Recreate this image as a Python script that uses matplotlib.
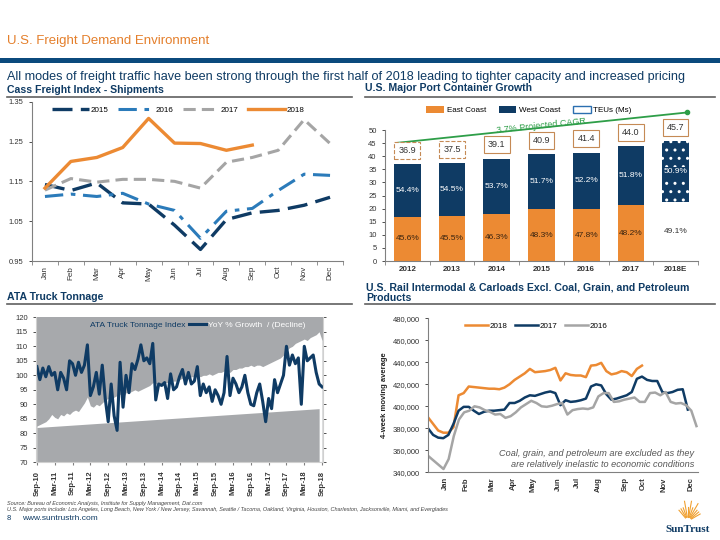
import math
import matplotlib
matplotlib.use('Agg')
import matplotlib.pyplot as plt
from matplotlib.patches import Patch, Rectangle
from matplotlib.lines import Line2D
from matplotlib.ticker import FuncFormatter

plt.rcParams['font.family'] = ['Liberation Sans', 'DejaVu Sans']

NAVY = '#0f3b64'
BLUE = '#2b7bba'
GRAY = '#a5a5a5'
ORANGE = '#ec8a33'
TITLE_OR = '#e47f2b'
BAND = '#0b4a7d'
ATA_BG = '#a7a9ac'
AXC = '#808080'

# ---------------- data ----------------
months = ['Jan', 'Feb', 'Mar', 'Apr', 'May', 'Jun', 'Jul', 'Aug', 'Sep', 'Oct', 'Nov', 'Dec']
cass_2015 = [1.142, 1.127, 1.146, 1.096, 1.093, 1.040, 0.979, 1.054, 1.071, 1.077, 1.090, 1.110]
cass_2016 = [1.112, 1.118, 1.112, 1.120, 1.093, 1.077, 1.007, 1.075, 1.082, 1.127, 1.168, 1.165]
cass_2017 = [1.128, 1.157, 1.148, 1.155, 1.155, 1.150, 1.133, 1.198, 1.210, 1.228, 1.305, 1.245]
cass_2018 = [1.133, 1.200, 1.210, 1.235, 1.308, 1.246, 1.245, 1.228, 1.241]

port_years = ['2012', '2013', '2014', '2015', '2016', '2017', '2018E']
port_total = [36.9, 37.5, 39.1, 40.9, 41.4, 44.0, 45.7]
east_share = [45.6, 45.5, 46.3, 48.3, 47.8, 48.2, 49.1]
west_share = [54.4, 54.5, 53.7, 51.7, 52.2, 51.8, 50.9]
cagr_start, cagr_end = 45.1, 56.7

ata_ticks = ['Sep-10', 'Mar-11', 'Sep-11', 'Mar-12', 'Sep-12', 'Mar-13', 'Sep-13', 'Mar-14',
             'Sep-14', 'Mar-15', 'Sep-15', 'Mar-16', 'Sep-16', 'Mar-17', 'Sep-17', 'Mar-18', 'Sep-18']
ata_index = [82.5, 83, 83.5, 84, 85, 86.5, 85.5, 85, 86.5, 86, 87, 86.5, 87.5, 88, 87.5, 89, 90.5,
             92.5, 89.5, 89, 90, 89.5, 90.5, 91.5, 92, 91.5, 92.5, 93, 93.5, 92.5, 94, 94, 94.5,
             95, 94.5, 95, 95.5, 96, 96.5, 97.5, 97, 97.5, 97, 97.5, 97.5, 98, 98, 98, 98.5, 99,
             98.5, 99, 99.5, 99.5, 100, 99.5, 100, 100, 100.5, 100, 100.5, 101, 101, 101.5, 101.5,
             101, 102, 102, 102.5, 102.5, 103, 103, 103.5, 103, 103.5, 103.5, 103, 103.5, 104,
             104.5, 105, 105.5, 106, 107, 108.5, 109.5, 110, 111, 111.5, 112, 112.5, 112, 113,
             113.5, 114, 115, 112]
ata_yoy = [103, 98.5, 102.5, 99.5, 103, 100, 101, 95, 101, 99, 95, 105, 104, 100, 104.5, 101,
           103.5, 110.5, 93, 96, 101, 93.5, 103.5, 92, 84, 97, 86, 81, 104.5, 89, 100, 94, 104,
           102, 105.5, 110.5, 105, 106, 104, 111, 91.5, 97, 96.5, 97.5, 92, 100.5, 95, 96, 99.5,
           102, 97, 101, 97, 98, 103, 93, 97, 94, 96, 91, 95, 93, 90, 94, 106.5, 93, 99, 97, 94,
           96, 100, 94, 90, 89.5, 94, 97, 91, 84, 92, 88.5, 98.5, 94, 97, 100, 110, 103.5, 107,
           104, 106, 90, 110, 105, 106, 107, 101, 97, 96]
ata_trend = [82.0, 88.5]

rail_ticks = ['Jan', 'Feb', 'Mar', 'Apr', 'May', 'Jun', 'Jul', 'Aug', 'Sep', 'Oct', 'Nov', 'Dec']
rail_tick_weeks = [3.5, 7.5, 12.5, 16.7, 20.6, 25.5, 29.3, 33.4, 38.7, 42.2, 46.3, 51.6]
rail_2018 = [390, 384, 378, 376, 376, 381, 410, 412, 418, 417.5, 417, 416.5, 416, 416, 415.5,
             417, 420, 424, 427, 430, 434, 431, 431.5, 432, 433, 435, 423.5, 430, 428.5, 428,
             428, 426.5, 437, 437.5, 439.5, 432, 429, 430, 432, 431, 427.5, 434, 437]
rail_2017 = [380, 374, 371.5, 371, 374, 384, 396, 399.5, 399.5, 396, 393, 395, 396, 396, 396.5,
             397, 403, 403, 405, 408, 410, 409.5, 411, 412.5, 413.5, 412, 401, 405.5, 404, 404.5,
             405.5, 407, 418, 420, 419, 411, 406, 407, 408.5, 410, 413, 425, 427, 424, 423, 423,
             413, 412, 413, 415, 415.5, 397]
rail_2016 = [355, 351, 347, 343, 352, 373, 388, 394.5, 396, 400, 399, 396.5, 395, 392.5, 393,
             389.5, 391, 394.5, 399, 402, 405, 403, 400, 399.5, 400.5, 402, 403, 392.5, 396.5,
             397.5, 398, 397.5, 399, 409, 412, 412, 404, 404.5, 406, 407, 408, 404, 404, 412,
             412.5, 410, 413, 404, 402.5, 403, 401, 396, 382]

# ---------------- figure ----------------
fig = plt.figure(figsize=(7.2, 5.4), dpi=100)
W, H = 720.0, 540.0


def fx(px):
    return px / W


def fy(py):
    return 1 - py / H


fig.text(fx(7), fy(41), 'U.S. Freight Demand Environment', color=TITLE_OR, fontsize=9.5,
         va='center', ha='left')
fig.add_artist(Rectangle((0, fy(63)), 1, 5 / H, transform=fig.transFigure, color=BAND, lw=0))
fig.text(fx(7), fy(77), 'All modes of freight traffic have been strong through the first half of 2018 '
         'leading to tighter capacity and increased pricing', color=NAVY, fontsize=9.1,
         va='center', ha='left')

titles = [(7, 90, 'Cass Freight Index - Shipments'), (365, 88, 'U.S. Major Port Container Growth'),
          (7, 297, 'ATA Truck Tonnage'),
          (366, 287, 'U.S. Rail Intermodal & Carloads Excl. Coal, Grain, and Petroleum'),
          (366, 298, 'Products')]
for x, y, t in titles:
    fig.text(fx(x), fy(y), t, color=NAVY, fontsize=7.6, fontweight='bold', va='center', ha='left')
for x0, x1, y in [(7, 352, 96.5), (365, 715, 96.5), (7, 352, 304), (365, 715, 304)]:
    fig.add_artist(Line2D([fx(x0), fx(x1)], [fy(y), fy(y)], transform=fig.transFigure,
                          color='#606060', lw=1.2))

tick_kw = dict(labelsize=5.5, colors='#333333', length=2.5, width=0.6)

# ---------------- Cass ----------------
ax1 = fig.add_axes([fx(32), fy(261), (343 - 32) / W, (261 - 101.7) / H])
xs = list(range(12))
ax1.plot(xs, cass_2015, color=NAVY, lw=2.4, dashes=(6, 2.5), label='2015')
ax1.plot(xs, cass_2016, color=BLUE, lw=2.2, dashes=(6, 2.5, 1.5, 2.5), label='2016')
ax1.plot(xs, cass_2017, color=GRAY, lw=2.2, dashes=(4, 2), label='2017')
ax1.plot(xs[:len(cass_2018)], cass_2018, color=ORANGE, lw=2.4, label='2018')
ax1.set_xlim(-0.5, 11.5)
ax1.set_ylim(0.95, 1.35)
ax1.set_yticks([0.95, 1.05, 1.15, 1.25, 1.35])
ax1.yaxis.set_major_formatter(FuncFormatter(lambda v, p: f'{v:.2f}'))
ax1.set_xticks(xs)
ax1.set_xticklabels(months, rotation=90)
ax1.set_xticks([i + 0.5 for i in range(-1, 12)], minor=True)
ax1.tick_params(axis='x', which='major', length=0, labelsize=5.8, colors='#333333')
ax1.tick_params(axis='x', which='minor', length=3, color=AXC)
ax1.tick_params(axis='y', **tick_kw)
for s in ['top', 'right']:
    ax1.spines[s].set_visible(False)
for s in ['left', 'bottom']:
    ax1.spines[s].set_color(AXC)
ax1.legend(loc='center', bbox_to_anchor=(0.47, 0.948), ncol=4, frameon=False, fontsize=5.8,
           handlelength=4.5, columnspacing=1.2, handletextpad=0.2)

# ---------------- Port ----------------
ax2 = fig.add_axes([fx(385), fy(261), (698 - 385) / W, (261 - 130) / H])
xp = list(range(len(port_years)))
east = [t * s / 100 for t, s in zip(port_total, east_share)]
west = [t * s / 100 for t, s in zip(port_total, west_share)]
east_cols = [ORANGE] * 6 + ['white']
ax2.bar(xp, east, width=0.6, color=east_cols, lw=0)
ax2.bar(xp[:6], west[:6], bottom=east[:6], width=0.6, color=NAVY, lw=0)
ax2.bar(xp[6:], west[6:], bottom=east[6:], width=0.6, color=NAVY, edgecolor='white', lw=0,
        hatch='..')
for i in xp:
    ec = '#3a2410' if i < 6 else '#333333'
    ax2.text(i, east[i] / 2, f'{east_share[i]:.1f}%', ha='center', va='center', fontsize=6,
             color=ec)
    bb = None if i < 6 else dict(boxstyle='square,pad=0.2', fc=NAVY, ec='none')
    ax2.text(i, east[i] + west[i] / 2, f'{west_share[i]:.1f}%', ha='center', va='center',
             fontsize=6, color='white', bbox=bb)
    ls = '--' if i < 2 else '-'
    ax2.text(i, port_total[i] + 5.2, f'{port_total[i]:.1f}', ha='center', va='center',
             fontsize=6.5, color='#333333', clip_on=False,
             bbox=dict(boxstyle='square,pad=0.45', fc='white', ec='#c58a55', lw=0.8, ls=ls))
ax2.plot([-0.23, 6.26], [cagr_start, cagr_end], color='#2e9e48', lw=1.3, clip_on=False)
ax2.plot([6.26], [cagr_end], 'o', color='#2e9e48', ms=3, clip_on=False)
ax2.text(3.0, 51.6, '3.7% Projected CAGR', color='#2e9e48', fontsize=6.5, rotation=6,
         ha='center', va='center', clip_on=False)
ax2.set_xlim(-0.5, 6.5)
ax2.set_ylim(0, 50)
ax2.set_yticks(range(0, 51, 5))
ax2.set_xticks(xp)
ax2.set_xticklabels(port_years, fontweight='bold')
ax2.set_xticks([i + 0.5 for i in range(-1, 7)], minor=True)
ax2.tick_params(axis='x', which='major', length=0, labelsize=5.8, colors='#333333')
ax2.tick_params(axis='x', which='minor', length=3, color=AXC)
ax2.tick_params(axis='y', **tick_kw)
for s in ['top', 'right']:
    ax2.spines[s].set_visible(False)
for s in ['left', 'bottom']:
    ax2.spines[s].set_color(AXC)
handles = [Patch(fc=ORANGE, ec='none'), Patch(fc=NAVY, ec='none'),
           Patch(fc='white', ec='#2b6fb0', lw=1.0)]
ax2.legend(handles, ['East Coast', 'West Coast', 'TEUs (Ms)'], loc='center',
           bbox_to_anchor=(0.46, 1.155), ncol=3, frameon=False, fontsize=5.8, handlelength=2.2,
           handleheight=1.0, columnspacing=1.6, handletextpad=0.3)

# ---------------- ATA ----------------
ax3 = fig.add_axes([fx(36), fy(462.3), (323 - 36) / W, (462.3 - 317.3) / H])
ax3.set_facecolor(ATA_BG)
xm = list(range(len(ata_index)))
ax3.fill_between(xm, 70, ata_index, color='white', lw=0)
ax3.fill_between([0, 95], [70, 70], ata_trend, color=ATA_BG, lw=0)
ax3.plot(xm, ata_yoy, color=NAVY, lw=2.2)
ax3.set_xlim(-0.3, 96.3)
ax3.set_ylim(70, 120)
ax3.set_yticks(range(70, 121, 5))
ax3.set_xticks(range(0, 97, 6))
ax3.set_xticklabels(ata_ticks, rotation=90, fontweight='bold')
ax3.tick_params(axis='x', labelsize=5.5, colors='#333333', length=2.5, color=AXC)
ax3.tick_params(axis='y', which='both', right=True, **tick_kw)
ax3.spines['top'].set_visible(False)
for s in ['left', 'bottom', 'right']:
    ax3.spines[s].set_color('#d0d0d0')
leg3 = ax3.legend([Patch(fc='none', ec='none'), Line2D([], [], color=NAVY, lw=2.2)],
                  ['ATA Truck Tonnage Index', 'YoY % Growth  / (Decline)'], loc='center',
                  bbox_to_anchor=(0.53, 0.945), ncol=2, frameon=False, fontsize=6,
                  handlelength=2.0, handletextpad=0.2, columnspacing=0.5)
leg3.get_texts()[0].set_color(NAVY)
leg3.get_texts()[1].set_color('white')

# ---------------- Rail ----------------
ax4 = fig.add_axes([fx(428), fy(472.3), (698 - 428) / W, (472.3 - 318.3) / H])
ax4.plot(range(len(rail_2018)), [v * 1000 for v in rail_2018], color=ORANGE, lw=1.8, label='2018')
ax4.plot(range(len(rail_2017)), [v * 1000 for v in rail_2017], color=NAVY, lw=1.8, label='2017')
ax4.plot([w + 0.7 * (w / 52) for w in range(len(rail_2016))], [v * 1000 for v in rail_2016],
         color=GRAY, lw=1.8, label='2016')
ax4.set_xlim(0, 53)
ax4.set_ylim(340000, 480000)
ax4.set_yticks(range(340000, 480001, 20000))
ax4.yaxis.set_major_formatter(FuncFormatter(lambda v, p: f'{v:,.0f}'))
ax4.set_xticks(rail_tick_weeks)
ax4.set_xticklabels(rail_ticks, rotation=90, fontweight='bold')
ax4.tick_params(axis='x', labelsize=5.5, colors='#333333', length=0)
ax4.tick_params(axis='y', **tick_kw)
ax4.set_ylabel('4-week moving average', fontsize=5.5, fontweight='bold', color='#222222',
               labelpad=3)
for s in ['top', 'right']:
    ax4.spines[s].set_visible(False)
for s in ['left', 'bottom']:
    ax4.spines[s].set_color(AXC)
ax4.legend(loc='center', bbox_to_anchor=(0.40, 0.952), ncol=3, frameon=False, fontsize=5.8,
           handlelength=2.8, handletextpad=0.2, columnspacing=1.0)
ax4.text(0.985, 0.085, 'Coal, grain, and petroleum are excluded as they\n'
         'are relatively inelastic to economic conditions', transform=ax4.transAxes,
         ha='right', va='center', fontsize=6.6, style='italic', color='#555555', linespacing=1.3)

# ---------------- footer ----------------
fig.text(fx(7), fy(503), 'Source: Bureau of Economic Analysis, Institute for Supply Management, Dat.com',
         fontsize=4, style='italic', color='#444444', va='center')
fig.text(fx(7), fy(510), 'U.S. Major ports include: Los Angeles, Long Beach, New York / New Jersey, '
         'Savannah, Seattle / Tacoma, Oakland, Virginia, Houston, Charleston, Jacksonville, Miami, '
         'and Everglades', fontsize=4, style='italic', color='#444444', va='center')
fig.text(fx(7), fy(519), '8', fontsize=5.5, color=NAVY, va='center')
fig.text(fx(22), fy(519), 'www.suntrustrh.com', fontsize=6, color=NAVY, va='center')
fig.text(fx(688), fy(530), 'SunTrust', fontsize=8, color=NAVY, va='center', ha='center',
         family=['Liberation Serif', 'DejaVu Serif'], fontweight='bold')
for ang in range(40, 141, 10):
    cx, cy = 688, 521
    r0, r1 = 4, 14 + (6 if ang in (70, 90, 110) else 0)
    a = math.radians(ang - 10)
    fig.add_artist(Line2D([fx(cx + r0 * math.cos(a)), fx(cx + r1 * math.cos(a))],
                          [fy(cy - r0 * math.sin(a)), fy(cy - r1 * math.sin(a))],
                          transform=fig.transFigure, color='#f0a030', lw=0.8))

fig.savefig('out.png', dpi=100)
